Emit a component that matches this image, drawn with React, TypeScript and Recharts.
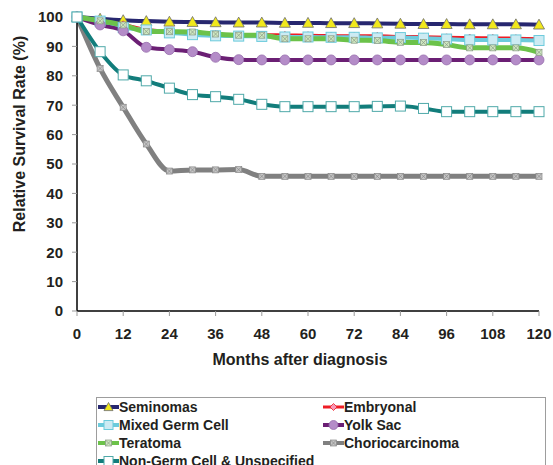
import React from "react";
import { LineChart, Line, XAxis, YAxis, Legend, Label } from "recharts";

const months = [0, 6, 12, 18, 24, 30, 36, 42, 48, 54, 60, 66, 72, 78, 84, 90, 96, 102, 108, 114, 120];
const xTicks = [0, 12, 24, 36, 48, 60, 72, 84, 96, 108, 120];
const yTicks = [0, 10, 20, 30, 40, 50, 60, 70, 80, 90, 100];

const seminomas = [100, 99.4, 98.9, 98.6, 98.4, 98.3, 98.2, 98.1, 98.1, 98.0, 98.0, 97.9, 97.9, 97.8, 97.7, 97.6, 97.6, 97.5, 97.5, 97.5, 97.4];
const embryonal = [100, 98.8, 97.5, 95.8, 95.0, 94.5, 94.2, 94.0, 94.0, 93.9, 93.8, 93.7, 93.6, 93.6, 93.4, 93.3, 93.1, 93.0, 92.9, 92.8, 92.6];
const mixedGermCell = [100, 98.6, 96.4, 95.6, 94.6, 94.0, 93.6, 93.5, 93.4, 93.2, 93.2, 93.1, 93.1, 92.9, 93.0, 92.8, 92.5, 92.2, 92.2, 92.2, 92.0];
const yolkSac = [100, 97.3, 95.3, 89.7, 88.9, 88.2, 86.3, 85.5, 85.4, 85.4, 85.4, 85.4, 85.4, 85.4, 85.4, 85.4, 85.4, 85.4, 85.4, 85.4, 85.4];
const teratoma = [100, 98.7, 97.3, 95.1, 95.0, 94.9, 94.2, 93.8, 93.8, 92.6, 92.6, 92.6, 92.1, 92.0, 91.4, 91.3, 90.6, 89.5, 89.5, 89.5, 88.0];
const choriocarcinoma = [100, 82.5, 69.3, 56.8, 47.6, 48.0, 48.0, 48.1, 45.8, 45.8, 45.8, 45.8, 45.8, 45.8, 45.8, 45.8, 45.8, 45.8, 45.8, 45.8, 45.8];
const nonGerm = [100, 88.2, 80.3, 78.3, 75.8, 73.6, 72.9, 72.0, 70.3, 69.5, 69.5, 69.5, 69.5, 69.6, 69.7, 68.9, 67.8, 67.8, 67.8, 67.8, 67.8];

const data = months.map((m, i) => ({
  month: m,
  seminomas: seminomas[i],
  embryonal: embryonal[i],
  mixed: mixedGermCell[i],
  yolk: yolkSac[i],
  teratoma: teratoma[i],
  chorio: choriocarcinoma[i],
  nonGerm: nonGerm[i],
}));

type Shape = "triangle" | "diamond" | "square" | "circle" | "xbox";

type SeriesDef = {
  key: string;
  name: string;
  color: string;
  width: number;
  shape: Shape;
  fill: string;
  stroke: string;
  size: number;
};

const SERIES: SeriesDef[] = [
  { key: "seminomas", name: "Seminomas", color: "#27276f", width: 4, shape: "triangle", fill: "#f1e81c", stroke: "#6b6b6b", size: 11 },
  { key: "embryonal", name: "Embryonal", color: "#ee1c25", width: 3, shape: "diamond", fill: "#f799b8", stroke: "#ee1c25", size: 7 },
  { key: "mixed", name: "Mixed Germ Cell", color: "#6ccbdc", width: 4, shape: "square", fill: "#cdebf3", stroke: "#6ccbdc", size: 10 },
  { key: "yolk", name: "Yolk Sac", color: "#6b1f74", width: 4, shape: "circle", fill: "#b48cc8", stroke: "#9870ad", size: 10 },
  { key: "teratoma", name: "Teratoma", color: "#6cc24a", width: 5, shape: "xbox", fill: "#cfe8c0", stroke: "#8a9a88", size: 6 },
  { key: "chorio", name: "Choriocarcinoma", color: "#808080", width: 5, shape: "xbox", fill: "#c4c4c4", stroke: "#8a8a8a", size: 6 },
  { key: "nonGerm", name: "Non-Germ Cell & Unspecified", color: "#127d7b", width: 4, shape: "square", fill: "#ffffff", stroke: "#4fa9a9", size: 10 },
];

const FONT = "'Liberation Sans', Arial, sans-serif";
const TEXT = "#231f20";

function Marker({ s, cx, cy }: { s: SeriesDef; cx: number; cy: number }) {
  const h = s.size / 2;
  if (s.shape === "triangle") {
    return (
      <polygon
        points={`${cx},${cy - h} ${cx + h},${cy + h * 0.8} ${cx - h},${cy + h * 0.8}`}
        fill={s.fill}
        stroke={s.stroke}
        strokeWidth={0.8}
      />
    );
  }
  if (s.shape === "diamond") {
    return (
      <polygon
        points={`${cx},${cy - h} ${cx + h},${cy} ${cx},${cy + h} ${cx - h},${cy}`}
        fill={s.fill}
        stroke={s.stroke}
        strokeWidth={0.8}
      />
    );
  }
  if (s.shape === "circle") {
    return <circle cx={cx} cy={cy} r={h} fill={s.fill} stroke={s.stroke} strokeWidth={0.8} />;
  }
  if (s.shape === "xbox") {
    return (
      <g>
        <rect x={cx - h} y={cy - h} width={s.size} height={s.size} fill={s.fill} stroke={s.stroke} strokeWidth={0.7} />
        <line x1={cx - h} y1={cy - h} x2={cx + h} y2={cy + h} stroke={s.stroke} strokeWidth={0.7} />
        <line x1={cx - h} y1={cy + h} x2={cx + h} y2={cy - h} stroke={s.stroke} strokeWidth={0.7} />
      </g>
    );
  }
  return (
    <rect x={cx - h} y={cy - h} width={s.size} height={s.size} fill={s.fill} stroke={s.stroke} strokeWidth={1} />
  );
}

function LegendBox() {
  return (
    <div
      style={{
        border: "1px solid #9d9d9d",
        height: 80,
        boxSizing: "border-box",
        display: "grid",
        gridTemplateColumns: "225px 1fr",
        gridAutoRows: "18px",
        paddingLeft: 1,
        fontFamily: FONT,
        fontWeight: "bold",
        fontSize: 14,
        color: TEXT,
      }}
    >
      {SERIES.map((s) => (
        <div key={s.key} style={{ display: "flex", alignItems: "center", whiteSpace: "nowrap" }}>
          <svg width={21} height={14}>
            <line x1={0} y1={7} x2={21} y2={7} stroke={s.color} strokeWidth={Math.min(s.width, 4)} />
            <Marker s={{ ...s, size: Math.min(s.size, 9) }} cx={10.5} cy={7} />
          </svg>
          <span>{s.name}</span>
        </div>
      ))}
    </div>
  );
}

export default function App() {
  return (
    <div style={{ position: "absolute", left: 0, top: 0 }}>
      <LineChart width={553} height={465} data={data} margin={{ top: 17, right: 14, left: 0, bottom: 94 }}>
        <XAxis
          dataKey="month"
          type="number"
          domain={[0, 120]}
          ticks={xTicks}
          height={60}
          axisLine={{ stroke: "#000", strokeWidth: 1.5 }}
          tickLine={{ stroke: "#999" }}
          tickSize={5}
          tickMargin={12}
          tick={{ fill: TEXT, fontSize: 15, fontWeight: "bold", fontFamily: FONT }}
        >
          <Label
            value="Months after diagnosis"
            position="insideBottom"
            offset={6}
            dx={-8}
            style={{ fill: TEXT, fontSize: 16, fontWeight: "bold", fontFamily: FONT }}
          />
        </XAxis>
        <YAxis
          type="number"
          domain={[0, 100]}
          ticks={yTicks}
          width={77}
          axisLine={{ stroke: "#000", strokeWidth: 1.5 }}
          tickLine={{ stroke: "#999" }}
          tickSize={5}
          tickMargin={9}
          tick={{ fill: TEXT, fontSize: 15, fontWeight: "bold", fontFamily: FONT }}
        >
          <Label
            value="Relative Survival Rate (%)"
            angle={-90}
            position="insideLeft"
            offset={19}
            dy={-30}
            style={{ fill: TEXT, fontSize: 16, fontWeight: "bold", fontFamily: FONT, textAnchor: "middle" }}
          />
        </YAxis>
        {SERIES.map((s) => (
          <Line
            key={s.key}
            dataKey={s.key}
            name={s.name}
            type="monotone"
            stroke={s.color}
            strokeWidth={s.width}
            isAnimationActive={false}
            dot={(p: any) => <Marker key={`${s.key}-${p.index}`} s={s} cx={p.cx} cy={p.cy} />}
            activeDot={false}
          />
        ))}
        <Legend
          verticalAlign="middle"
          align="center"
          layout="horizontal"
          wrapperStyle={{ left: 96, top: 397, width: 450 }}
          content={() => <LegendBox />}
        />
      </LineChart>
    </div>
  );
}
